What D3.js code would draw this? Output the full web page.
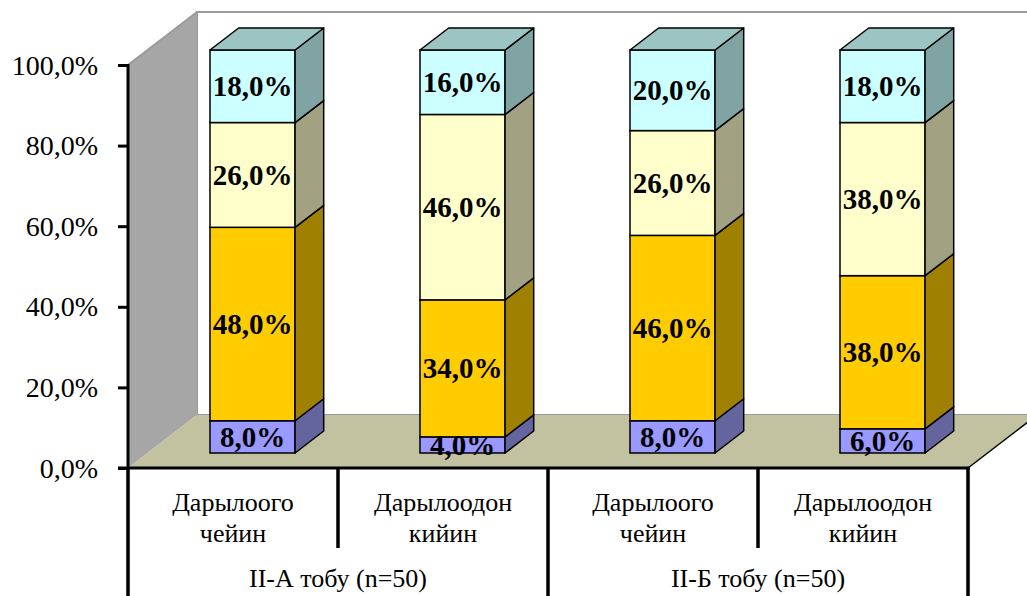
<!DOCTYPE html>
<html>
<head>
<meta charset="utf-8">
<script src="https://cdn.jsdelivr.net/npm/d3@7"></script>
<style>
  body { margin: 0; background: #fff; }
  svg { display: block; }
</style>
</head>
<body>
<svg id="chart" width="1027" height="596"></svg>
<script>
// ---- data ----
const categoryLines = [
  ["Дарылоого", "чейин"],
  ["Дарылоодон", "кийин"],
  ["Дарылоого", "чейин"],
  ["Дарылоодон", "кийин"]
];
const groups = ["II-А тобу (n=50)", "II-Б тобу (n=50)"];
const level1 = [8, 4, 8, 6];
const level2 = [48, 34, 46, 38];
const level3 = [26, 46, 26, 38];
const level4 = [18, 16, 20, 18];
const tickValues = [0, 20, 40, 60, 80, 100];

// ---- styling ----
const FONT = '"Liberation Serif"';
const seriesKeys = ["level1", "level2", "level3", "level4"];
const frontColor = { level1: "#9999FF", level2: "#FFCC00", level3: "#FFFFCC", level4: "#CCFFFF" };
const sideColor  = { level1: "#64649E", level2: "#A08000", level3: "#A2A282", level4: "#80A4A4" };
const topColor   = { level1: "#7A7AC4", level2: "#C4A000", level3: "#C8C8A2", level4: "#9CC4C2" };

const rows = categoryLines.map((c, i) => ({
  level1: level1[i], level2: level2[i], level3: level3[i], level4: level4[i]
}));

const svg = d3.select("#chart");

// plot geometry (front plane)
const left = 128, right = 968, base = 468, topY = 65;
// full depth of the 3D box and position of the columns inside it
const DX = 69, DY = -53;
const fF = 15 / 53, fB = 37 / 53;
const dxF = DX * fF, dyF = DY * fF, dxB = DX * fB, dyB = DY * fB;

const y = d3.scaleLinear().domain([0, 100]).range([base, topY]);
const x = d3.scaleBand().domain(d3.range(categoryLines.length))
  .range([left, right]).paddingInner(0.595).paddingOuter(0.2975);
const xCat = d3.scaleBand().domain(d3.range(categoryLines.length)).range([left, right]);
const xGroup = d3.scaleBand().domain(d3.range(groups.length)).range([left, right]);

const fmt = v => d3.format(".1f")(v).replace(".", ",") + "%";

// ---- walls and floor ----
const backTop = y(100) + DY;
svg.append("rect")
  .attr("x", left + DX).attr("y", backTop)
  .attr("width", 1100 - left - DX).attr("height", base + DY - backTop)
  .attr("fill", "#fff").attr("stroke", "#9a9a9a").attr("stroke-width", 2);

svg.append("polygon")
  .attr("points", [[left, y(100)], [left + DX, y(100) + DY], [left + DX, base + DY], [left, base]].join(" "))
  .attr("fill", "#A6A6A6");
svg.append("line")
  .attr("x1", left).attr("y1", y(100)).attr("x2", left + DX).attr("y2", y(100) + DY)
  .attr("stroke", "#9a9a9a").attr("stroke-width", 2);

svg.append("polygon")
  .attr("points", [[left, base], [left + DX, base + DY], [right + DX, base + DY], [right, base]].join(" "))
  .attr("fill", "#C2C2A0");
svg.append("line")
  .attr("x1", right).attr("y1", base).attr("x2", right + DX).attr("y2", base + DY)
  .attr("stroke", "#000").attr("stroke-width", 1.5);

// ---- stacked 3D columns ----
const stack = d3.stack().keys(seriesKeys)(rows);

rows.forEach((r, i) => {
  const x0 = x(i) + dxF, x1 = x0 + x.bandwidth();
  const g = svg.append("g");
  stack.forEach((layer, li) => {
    const key = layer.key;
    const [v0, v1] = layer[i];
    const yb = y(v0) + dyF, yt = y(v1) + dyF;
    const dX = dxB - dxF, dY = dyB - dyF;
    // front face
    g.append("rect")
      .attr("x", x0).attr("y", yt).attr("width", x1 - x0).attr("height", yb - yt)
      .attr("fill", frontColor[key]).attr("stroke", "#000").attr("stroke-width", 1.5);
    // side face
    g.append("polygon")
      .attr("points", [[x1, yt], [x1 + dX, yt + dY], [x1 + dX, yb + dY], [x1, yb]].join(" "))
      .attr("fill", sideColor[key]).attr("stroke", "#000").attr("stroke-width", 1.5)
      .attr("stroke-linejoin", "round");
    // top face on the uppermost segment
    if (li === stack.length - 1) {
      g.append("polygon")
        .attr("points", [[x0, yt], [x0 + dX, yt + dY], [x1 + dX, yt + dY], [x1, yt]].join(" "))
        .attr("fill", topColor[key]).attr("stroke", "#000").attr("stroke-width", 1.5)
        .attr("stroke-linejoin", "round");
    }
  });
  // value labels on the front faces
  stack.forEach(layer => {
    const [v0, v1] = layer[i];
    svg.append("text")
      .attr("x", (x0 + x1) / 2)
      .attr("y", (y(v0) + y(v1)) / 2 + dyF + 10)
      .attr("text-anchor", "middle")
      .style("font-family", FONT)
      .style("font-weight", "bold")
      .attr("font-size", 29)
      .attr("fill", "#000")
      .text(fmt(v1 - v0));
  });
});

// ---- value axis ----
const axis = svg.append("g")
  .attr("transform", `translate(${left},0)`)
  .call(d3.axisLeft(y).tickValues(tickValues).tickSize(10).tickPadding(20).tickFormat(fmt));
axis.attr("font-family", null).attr("font-size", null);
axis.select(".domain").attr("stroke", "#000").attr("stroke-width", 3).attr("d", `M0,${y(100) - 1}V${base}`);
axis.selectAll(".tick line").attr("stroke", "#000").attr("stroke-width", 3);
axis.selectAll(".tick text")
  .attr("fill", "#000")
  .attr("dy", null)
  .attr("y", 9)
  .style("font-family", FONT)
  .attr("font-size", 28);

// ---- category axis ----
svg.append("line")
  .attr("x1", left - 10).attr("x2", right + 2).attr("y1", base).attr("y2", base)
  .attr("stroke", "#000").attr("stroke-width", 3);

const dividers = d3.range(categoryLines.length + 1).map(i => left + i * xCat.step());
svg.append("g").selectAll("line").data(dividers).join("line")
  .attr("x1", d => d).attr("x2", d => d)
  .attr("y1", base)
  .attr("y2", (d, i) => (i % 2 === 0 ? 596 : 548))
  .attr("stroke", "#000").attr("stroke-width", 3.5);

categoryLines.forEach((lines, i) => {
  lines.forEach((t, j) => {
    svg.append("text")
      .attr("x", xCat(i) + xCat.bandwidth() / 2)
      .attr("y", 511 + j * 31)
      .attr("text-anchor", "middle")
      .style("font-family", FONT)
      .attr("font-size", 26)
      .attr("fill", "#000")
      .text(t);
  });
});

groups.forEach((gname, i) => {
  svg.append("text")
    .attr("x", xGroup(i) + xGroup.bandwidth() / 2)
    .attr("y", 587)
    .attr("text-anchor", "middle")
    .style("font-family", FONT)
    .attr("font-size", 26)
    .attr("fill", "#000")
    .text(gname);
});
</script>
</body>
</html>
